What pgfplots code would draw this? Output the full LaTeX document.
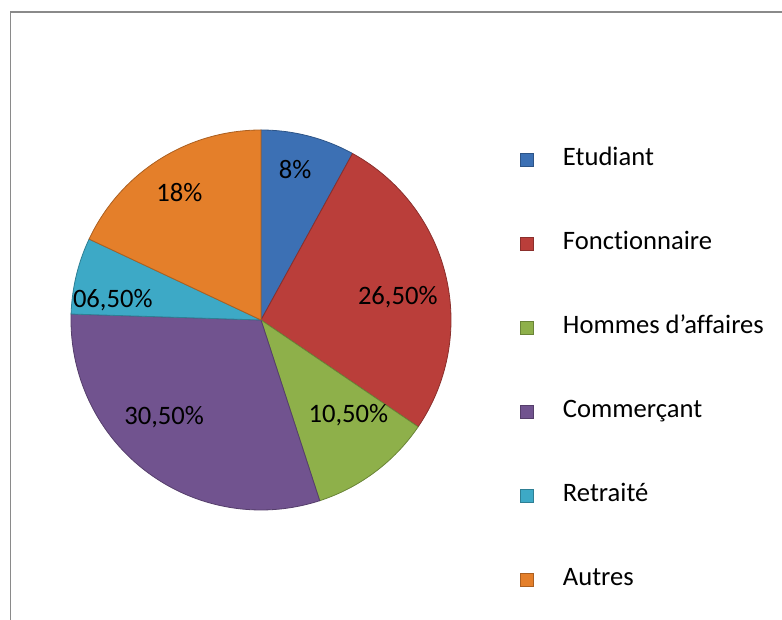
\documentclass[border=0pt]{standalone}
\usepackage{fontspec}
\setmainfont{Carlito}[Ligatures={NoCommon}]
\usepackage{pgfplots}
\pgfplotsset{compat=1.18}
\definecolor{cEtu}{HTML}{3C70B4}
\definecolor{cFon}{HTML}{BA3E3A}
\definecolor{cHom}{HTML}{8EB04A}
\definecolor{cCom}{HTML}{71538F}
\definecolor{cRet}{HTML}{3DA9C6}
\definecolor{cAut}{HTML}{E47F2A}
\definecolor{frame}{HTML}{8A8A8A}
% #1 cumulative start (%), #2 share (%), #3 colour
\newcommand\slice[3]{%
  \pgfmathsetmacro\sa{90-3.6*(#1+#2)}%
  \pgfmathsetmacro\sb{90-3.6*(#1)}%
  \edef\tmp{\noexpand\addplot[fill=#3, draw=#3!75!black, line width=0.8pt, domain=\sa:\sb, samples=120, forget plot] ({cos(x)},{sin(x)}) -- (axis cs:0,0) -- cycle;}%
  \tmp
}
\begin{document}
\begin{tikzpicture}
\useasboundingbox (0pt,0pt) rectangle (782pt,620pt);
\draw[frame, line width=1.6pt] (10.5pt,-2pt) -- (10.5pt,608pt) -- (790pt,608pt);
\begin{axis}[
  at={(261pt,300pt)}, anchor=center,
  scale only axis, width=380pt, height=380pt,
  xmin=-1, xmax=1, ymin=-1, ymax=1,
  hide axis, clip=false,
  font=\fontsize{26.6}{30}\selectfont,
  legend style={
    at={(axis description cs:1.172,0.961)}, anchor=north west,
    draw=none, fill=none,
    row sep=60pt,
    nodes={inner sep=0pt, text height=18pt, text depth=6pt, anchor=west},
    /tikz/every odd column/.append style={column sep=30pt},
  },
  legend cell align=left,
  legend image code/.code={\filldraw[#1] (0pt,-7pt) rectangle (13pt,6pt);},
]
\slice{0}{8}{cEtu}
\slice{8}{26.5}{cFon}
\slice{34.5}{10.5}{cHom}
\slice{45}{30.5}{cCom}
\slice{75.5}{6.5}{cRet}
\slice{82}{18}{cAut}
\addlegendimage{fill=cEtu, draw=cEtu!75!black}\addlegendentry{Etudiant}
\addlegendimage{fill=cFon, draw=cFon!75!black}\addlegendentry{Fonctionnaire}
\addlegendimage{fill=cHom, draw=cHom!75!black}\addlegendentry{Hommes d’affaires}
\addlegendimage{fill=cCom, draw=cCom!75!black}\addlegendentry{Commerçant}
\addlegendimage{fill=cRet, draw=cRet!75!black}\addlegendentry{Retraité}
\addlegendimage{fill=cAut, draw=cAut!75!black}\addlegendentry{Autres}
\node at (axis cs:0.18,0.79) {8\%};
\node at (axis cs:0.72,0.12) {26,50\%};
\node at (axis cs:0.46,-0.50) {10,50\%};
\node at (axis cs:-0.51,-0.51) {30,50\%};
\node at (axis cs:-0.78,0.105) {06,50\%};
\node at (axis cs:-0.43,0.67) {18\%};
\end{axis}
\end{tikzpicture}
\end{document}
